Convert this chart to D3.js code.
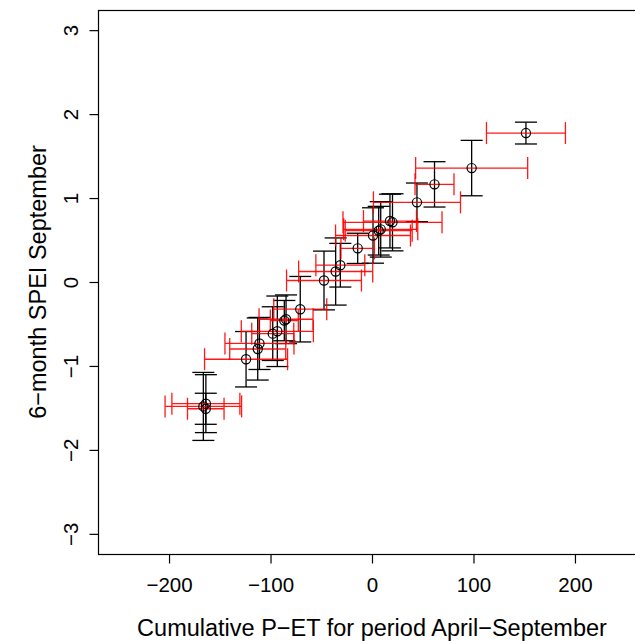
<!DOCTYPE html>
<html>
<head>
<meta charset="utf-8">
<script src="https://cdn.jsdelivr.net/npm/d3@7"></script>
<style>
  body { margin: 0; background: #fff; }
  text { font-family: "Liberation Sans", Arial, Helvetica, sans-serif; }
</style>
</head>
<body>
<svg id="chart"></svg>
<script>
// cumulative P-ET (x) and its spread
var pet = [151.7, 98.2, 61.6, 44.3, 17.7, 20.2, 8.6, 6.6, 1.0, -14.1, -31.2, -35.8,
           -47.3, -70.7, -84.7, -86.4, -93.3, -97.8, -110.9, -112.6, -124.1, -166.2, -163.7, -163.8];
var petErr = [38.9, 55.2, 19.2, 42.9, 26.1, 48.8, 36.5, 33.0, 36.9, 16.5, 24.1, 36.5,
              36.9, 26.1, 26.6, 13.8, 35.5, 20.7, 34.0, 27.6, 40.9, 37.7, 33.5, 18.0];
// 6-month SPEI September (y) and its spread
var spei = [1.774, 1.357, 1.163, 0.949, 0.726, 0.711, 0.627, 0.611, 0.554, 0.401, 0.200, 0.125,
            0.018, -0.324, -0.444, -0.460, -0.587, -0.615, -0.732, -0.798, -0.920, -1.482, -1.449, -1.510];
var speiErr = [0.13, 0.33, 0.27, 0.23, 0.32, 0.34, 0.33, 0.29, 0.33, 0.18, 0.26, 0.40,
               0.35, 0.39, 0.29, 0.24, 0.42, 0.32, 0.31, 0.37, 0.33, 0.405, 0.345, 0.185];

var xTicks = [-200, -100, 0, 100, 200];
var yTicks = [-3, -2, -1, 0, 1, 2, 3];
var xLabel = "Cumulative P\u2212ET for period April\u2212September";
var yLabel = "6\u2212month SPEI September";

var W = 635, H = 641,
    pL = 98, pR = 646, pT = 10, pB = 554,
    cap = 11;

var svg = d3.select("#chart").attr("width", W).attr("height", H);

var x = d3.scaleLinear().domain([-270, 270]).range([pL, pR]);
var y = d3.scaleLinear().domain([-3.24, 3.24]).range([pB, pT]);

var data = pet.map(function(v, i) {
    return { x: v, xe: petErr[i], y: spei[i], ye: speiErr[i] };
});

// box
svg.append("rect")
    .attr("x", pL + 0.5).attr("y", pT + 0.5)
    .attr("width", pR - pL).attr("height", pB - pT)
    .attr("fill", "none").attr("stroke", "#000").attr("stroke-width", 1.2);

// axes
var xAxis = svg.append("g")
    .attr("transform", "translate(0," + (pB + 0.5) + ")")
    .call(d3.axisBottom(x).tickValues(xTicks).tickSize(9).tickFormat(d3.format("d")));
xAxis.select(".domain").remove();
xAxis.selectAll("line").attr("stroke-width", 1.2);
xAxis.selectAll("text")
    .attr("y", 37).attr("dy", 0)
    .attr("font-size", 20.5).attr("fill", "#000")
    .style("font-family", "'Liberation Sans', Arial, sans-serif");

var yAxis = svg.append("g")
    .attr("transform", "translate(" + (pL + 0.5) + ",0)")
    .call(d3.axisLeft(y).tickValues(yTicks).tickSize(9).tickFormat(d3.format("d")));
yAxis.select(".domain").remove();
yAxis.selectAll("line").attr("stroke-width", 1.2);
yAxis.selectAll("text")
    .attr("x", 0).attr("y", -21).attr("dy", 0)
    .attr("transform", "rotate(-90)")
    .attr("text-anchor", "middle")
    .attr("font-size", 20.5).attr("fill", "#000")
    .style("font-family", "'Liberation Sans', Arial, sans-serif");

svg.append("text")
    .attr("x", (pL + pR) / 2).attr("y", 636)
    .attr("text-anchor", "middle").attr("font-size", 23.5)
    .text(xLabel);

svg.append("text")
    .attr("transform", "translate(46," + y(0) + ") rotate(-90)")
    .attr("text-anchor", "middle").attr("font-size", 23.5)
    .text(yLabel);

var plot = svg.append("g");

// SPEI error bars (black)
var vb = plot.selectAll(".vbar").data(data).enter().append("g").attr("class", "vbar")
    .attr("stroke", "#000").attr("stroke-width", 1.3);
vb.append("line")
    .attr("x1", function(d) { return x(d.x); }).attr("x2", function(d) { return x(d.x); })
    .attr("y1", function(d) { return y(d.y + d.ye); }).attr("y2", function(d) { return y(d.y - d.ye); });
vb.append("line")
    .attr("x1", function(d) { return x(d.x) - cap; }).attr("x2", function(d) { return x(d.x) + cap; })
    .attr("y1", function(d) { return y(d.y + d.ye); }).attr("y2", function(d) { return y(d.y + d.ye); });
vb.append("line")
    .attr("x1", function(d) { return x(d.x) - cap; }).attr("x2", function(d) { return x(d.x) + cap; })
    .attr("y1", function(d) { return y(d.y - d.ye); }).attr("y2", function(d) { return y(d.y - d.ye); });

// P-ET error bars (red)
var hb = plot.selectAll(".hbar").data(data).enter().append("g").attr("class", "hbar")
    .attr("stroke", "#ff0000").attr("stroke-width", 1.3).attr("opacity", 0.9);
hb.append("line")
    .attr("x1", function(d) { return x(d.x - d.xe); }).attr("x2", function(d) { return x(d.x + d.xe); })
    .attr("y1", function(d) { return y(d.y); }).attr("y2", function(d) { return y(d.y); });
hb.append("line")
    .attr("x1", function(d) { return x(d.x - d.xe); }).attr("x2", function(d) { return x(d.x - d.xe); })
    .attr("y1", function(d) { return y(d.y) - cap; }).attr("y2", function(d) { return y(d.y) + cap; });
hb.append("line")
    .attr("x1", function(d) { return x(d.x + d.xe); }).attr("x2", function(d) { return x(d.x + d.xe); })
    .attr("y1", function(d) { return y(d.y) - cap; }).attr("y2", function(d) { return y(d.y) + cap; });

// points
plot.selectAll("circle").data(data).enter().append("circle")
    .attr("cx", function(d) { return x(d.x); })
    .attr("cy", function(d) { return y(d.y); })
    .attr("r", 4.6)
    .attr("fill", "none").attr("stroke", "#000").attr("stroke-width", 1.2);
</script>
</body>
</html>
